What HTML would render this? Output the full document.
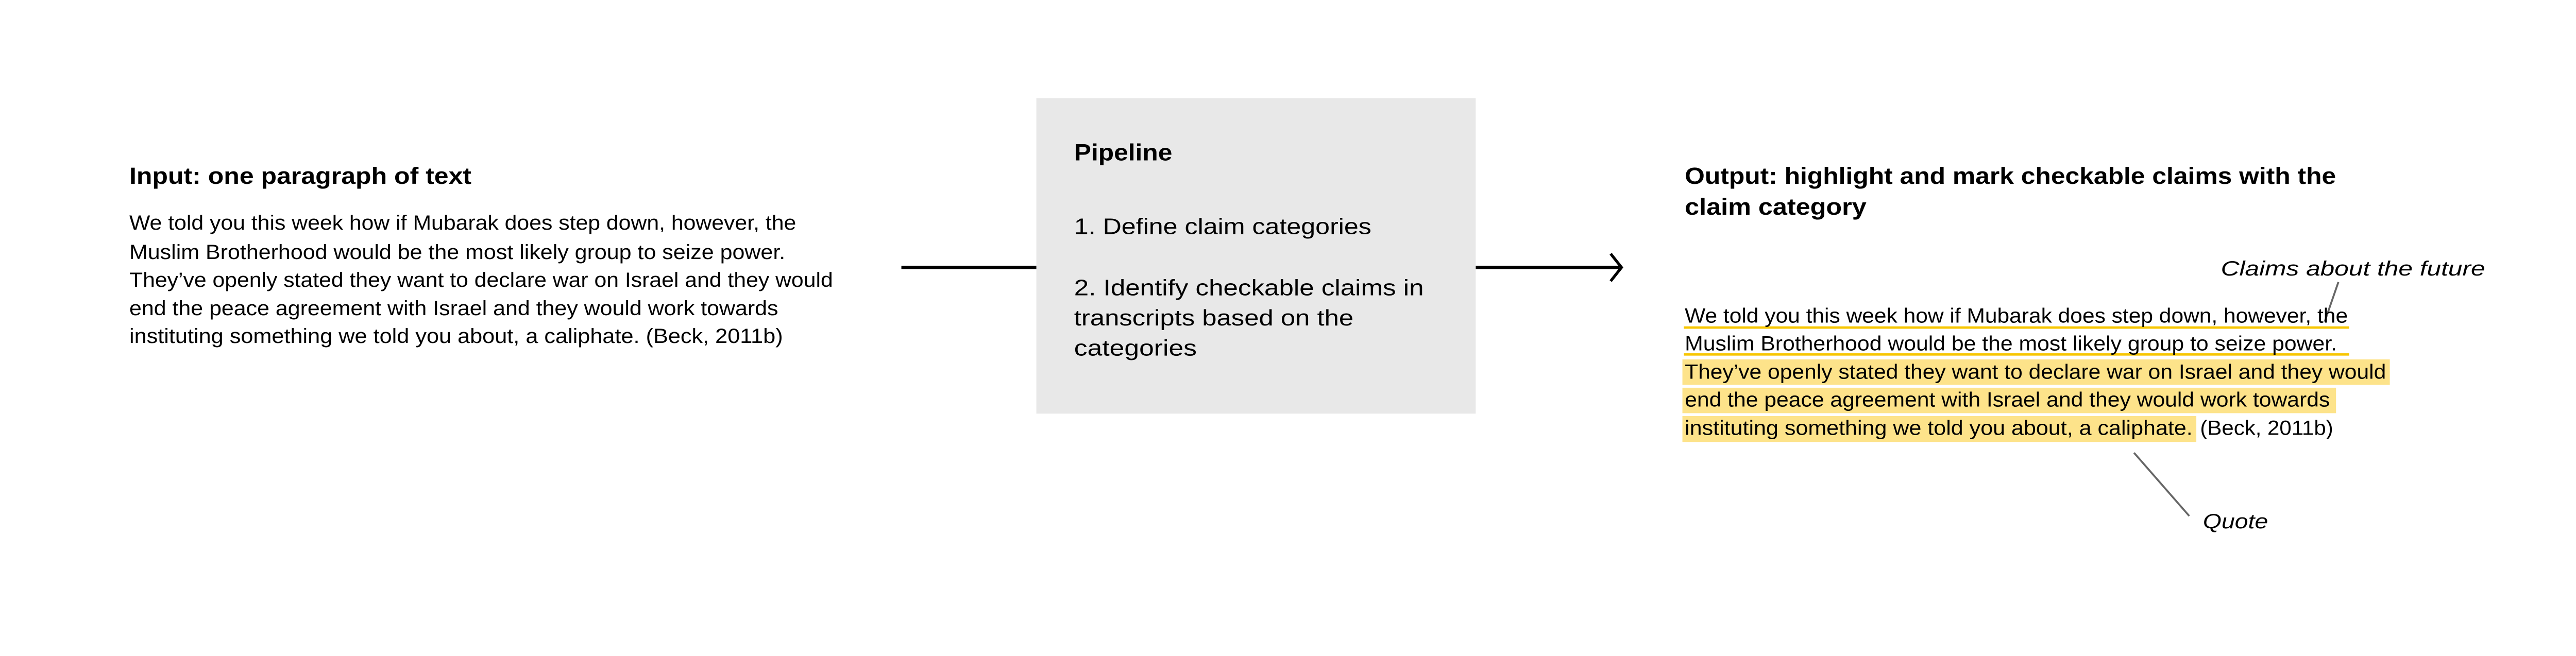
<!DOCTYPE html>
<html><head><meta charset="utf-8"><style>
html,body{margin:0;padding:0;background:#fff;}
svg{display:block;}
text{font-family:"Liberation Sans",sans-serif;fill:#000;}
.b{font-size:44px;}
.p{font-size:48px;}
.h{font-size:50px;font-weight:bold;}
.i{font-size:44px;font-style:italic;}
</style></head><body>
<svg width="5444" height="1274" viewBox="0 0 5444 1274" xmlns="http://www.w3.org/2000/svg">
<rect width="5444" height="1274" fill="#fff"/>
<g transform="scale(0.916)">
<!-- Input -->
<text class="h" x="274" y="390" textLength="725" lengthAdjust="spacingAndGlyphs">Input: one paragraph of text</text>
<text class="b" x="274" y="487" textLength="1413" lengthAdjust="spacingAndGlyphs">We told you this week how if Mubarak does step down, however, the</text>
<text class="b" x="274" y="549" textLength="1390" lengthAdjust="spacingAndGlyphs">Muslim Brotherhood would be the most likely group to seize power.</text>
<text class="b" x="274" y="608" textLength="1491" lengthAdjust="spacingAndGlyphs">They’ve openly stated they want to declare war on Israel and they would</text>
<text class="b" x="274" y="668" textLength="1375" lengthAdjust="spacingAndGlyphs">end the peace agreement with Israel and they would work towards</text>
<text class="b" x="274" y="727" textLength="1385" lengthAdjust="spacingAndGlyphs">instituting something we told you about, a caliphate. (Beck, 2011b)</text>
<!-- connectors -->
<line x1="1910" y1="567" x2="2197" y2="567" stroke="#000" stroke-width="7"/>
<line x1="3127" y1="567" x2="3432" y2="567" stroke="#000" stroke-width="7"/>
<polyline points="3413,538 3436,567 3413,596" fill="none" stroke="#000" stroke-width="6"/>
<!-- Pipeline box -->
<rect x="2196" y="208" width="931" height="669" fill="#e8e8e8"/>
<text class="h" x="2276" y="340" textLength="208" lengthAdjust="spacingAndGlyphs">Pipeline</text>
<text class="p" x="2276" y="496" textLength="630" lengthAdjust="spacingAndGlyphs">1. Define claim categories</text>
<text class="p" x="2276" y="626" textLength="741" lengthAdjust="spacingAndGlyphs">2. Identify checkable claims in</text>
<text class="p" x="2276" y="690" textLength="592" lengthAdjust="spacingAndGlyphs">transcripts based on the</text>
<text class="p" x="2276" y="754" textLength="260" lengthAdjust="spacingAndGlyphs">categories</text>
<!-- Output -->
<g transform="translate(8,0)">
<text class="h" x="3562" y="390" textLength="1380" lengthAdjust="spacingAndGlyphs">Output: highlight and mark checkable claims with the</text>
<text class="h" x="3562" y="455" textLength="385" lengthAdjust="spacingAndGlyphs">claim category</text>
<text class="i" x="4698" y="584" textLength="560" lengthAdjust="spacingAndGlyphs">Claims about the future</text>
<line x1="4947" y1="598" x2="4918" y2="682" stroke="#666" stroke-width="4"/>
<rect x="3557" y="762" width="1499" height="54" fill="#fde38a"/>
<rect x="3557" y="822" width="1385" height="54" fill="#fde38a"/>
<rect x="3557" y="882" width="1089" height="55" fill="#fde38a"/>
<rect x="3560" y="692" width="1410" height="5" fill="#f7c600"/>
<rect x="3560" y="749" width="1410" height="5" fill="#f7c600"/>
<text class="b" x="3562" y="684" textLength="1405" lengthAdjust="spacingAndGlyphs">We told you this week how if Mubarak does step down, however, the</text>
<text class="b" x="3562" y="743" textLength="1382" lengthAdjust="spacingAndGlyphs">Muslim Brotherhood would be the most likely group to seize power.</text>
<text class="b" x="3562" y="803" textLength="1486" lengthAdjust="spacingAndGlyphs">They’ve openly stated they want to declare war on Israel and they would</text>
<text class="b" x="3562" y="862" textLength="1367" lengthAdjust="spacingAndGlyphs">end the peace agreement with Israel and they would work towards</text>
<text class="b" x="3562" y="922" textLength="1076" lengthAdjust="spacingAndGlyphs">instituting something we told you about, a caliphate.</text>
<text class="b" x="4654" y="922" textLength="282" lengthAdjust="spacingAndGlyphs">(Beck, 2011b)</text>
<line x1="4514" y1="960" x2="4631" y2="1094" stroke="#666" stroke-width="4"/>
<text class="i" x="4660" y="1120" textLength="138" lengthAdjust="spacingAndGlyphs">Quote</text>
</g>
</g>
</svg>
</body></html>
